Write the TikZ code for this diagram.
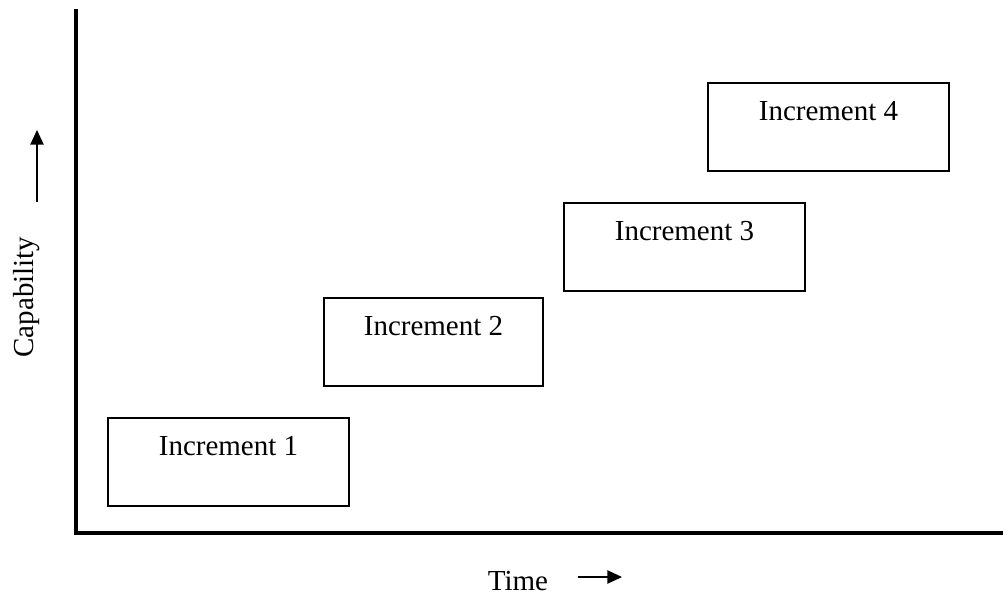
\documentclass[tikz,border=0pt]{standalone}
\usepackage{fontspec}
\setmainfont{Liberation Serif}
\usetikzlibrary{arrows.meta}
\begin{document}
\begin{tikzpicture}[
    x=0.75pt, y=-0.75pt, % Unités en pixels, axe y vers le bas
    every node/.style={font=\fontsize{21.75}{26}\selectfont},
    % Boîtes des incréments : texte placé en haut
    incbox/.style={draw, line width=1.2pt, inner sep=0pt,
        text height=28.5pt, text depth=37.5pt, anchor=north},
    axis/.style={line width=2.3pt},
    pointer/.style={line width=1.1pt, -{Triangle[length=11pt, width=10pt]}}
]
\useasboundingbox (0,0) rectangle (1003,594);
% Axes
\coordinate (ytop) at (76,9);
\coordinate (origin) at (76,533);
\coordinate (xend) at (1003,533);
\draw[axis] (ytop) -- (origin) -- (xend);
% Incréments
\node[incbox, minimum width=180.75pt] (inc1) at (228.5,417) {Increment 1};
\node[incbox, minimum width=164.25pt] (inc2) at (433.5,297) {Increment 2};
\node[incbox, minimum width=180.75pt] (inc3) at (684.5,202) {Increment 3};
\node[incbox, minimum width=180.75pt] (inc4) at (828.5,82) {Increment 4};
% Légendes des axes
\node[rotate=90, anchor=base] (caplabel) at (33,297) {Capability};
\coordinate (capfrom) at (37,202);
\coordinate (capto) at (37,130);
\draw[pointer] (capfrom) -- (capto);
\node[anchor=base, inner sep=0pt] (timelabel) at (518,590) {Time};
\coordinate (timefrom) at (578,577);
\coordinate (timeto) at (622,577);
\draw[pointer] (timefrom) -- (timeto);
\end{tikzpicture}
\end{document}
